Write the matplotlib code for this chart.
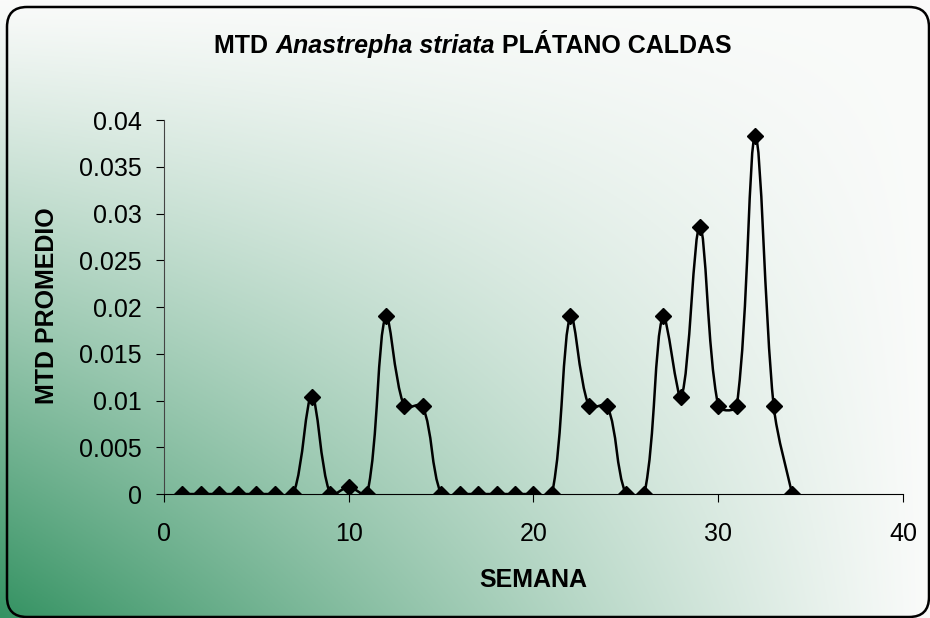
import numpy as np
import matplotlib
matplotlib.use("Agg")
from matplotlib import pyplot as plt
from matplotlib.path import Path
from matplotlib.patches import PathPatch, FancyBboxPatch

plt.rcParams['font.family'] = ['Liberation Sans', 'DejaVu Sans']

# data
semanas = list(range(1, 35))
mtd = [0, 0, 0, 0, 0, 0, 0, 0.0104, 0, 0.00075,
       0, 0.019, 0.0094, 0.0094, 0, 0, 0, 0, 0, 0,
       0, 0.019, 0.0094, 0.0094, 0, 0, 0.019, 0.0104, 0.0286, 0.0094,
       0.0094, 0.0383, 0.0094, 0]
x_ticks = [0, 10, 20, 30, 40]
y_ticks = [0, 0.005, 0.01, 0.015, 0.02, 0.025, 0.03, 0.035, 0.04]
y_labels = ['0', '0.005', '0.01', '0.015', '0.02', '0.025', '0.03', '0.035', '0.04']
title_parts = [('MTD ', 'normal'), ('Anastrepha striata', 'italic'), (' PLÁTANO CALDAS', 'normal')]


def smooth_path(ax, xs, ys, tension=1 / 3):
    '''
    Excel-like smoothed line: cubic bezier segments whose tangents are
    weighted by the on-screen chord lengths of the neighbouring segments.
    '''
    pts = np.column_stack([xs, ys]).astype(float)
    scr = ax.transData.transform(pts)
    n = len(pts)
    d = np.hypot(*np.diff(scr, axis=0).T)
    verts = [tuple(pts[0])]
    codes = [Path.MOVETO]
    for i in range(n - 1):
        p0 = i - 1 if i > 0 else i
        p3 = i + 2 if i + 2 < n else i + 1
        d_prev = d[i - 1] if i > 0 else d[i]
        d_next = d[i + 1] if i + 1 < n - 1 else d[i]
        w1 = d[i] / (d_prev + d[i]) * tension
        w2 = d[i] / (d[i] + d_next) * tension
        c1 = pts[i] + (pts[i + 1] - pts[p0]) * w1
        c2 = pts[i + 1] - (pts[p3] - pts[i]) * w2
        verts += [tuple(c1), tuple(c2), tuple(pts[i + 1])]
        codes += [Path.CURVE4] * 3
    return Path(verts, codes)


fig = plt.figure(figsize=(9.3, 6.18), dpi=100)

# background gradient (green bottom-left to white top-right)
bg = fig.add_axes([0, 0, 1, 1], zorder=0)
gx, gy = np.meshgrid(np.linspace(0, 1, 465), np.linspace(0, 1, 309))
s = np.clip((1 - gx) * (1 - gy), 0, 1) ** 1.1
white = np.array([250, 251, 250]) / 255
green = np.array([52, 146, 98]) / 255
img = white[None, None, :] * (1 - s[..., None]) + green[None, None, :] * s[..., None]
bg.imshow(img, extent=[0, 1, 0, 1], aspect='auto', origin='lower')
bg.set_xlim(0, 1)
bg.set_ylim(0, 1)
bg.axis('off')

# rounded chart border
fig.patches.append(FancyBboxPatch((0.07, 0.01), 9.22, 6.10,
                                  boxstyle="round,pad=0,rounding_size=0.2",
                                  transform=fig.dpi_scale_trans, fill=False,
                                  edgecolor='black', linewidth=1.8, zorder=3))

ax = fig.add_axes([0.1763, 0.2006, 0.7947, 0.6052], zorder=1)
ax.patch.set_alpha(0)
ax.set_xlim(0, 40)
ax.set_ylim(0, 0.04)

ax.add_patch(PathPatch(smooth_path(ax, semanas, mtd), fill=False,
                       edgecolor='black', linewidth=1.8))
ax.plot(semanas, mtd, linestyle='none', marker='D', markersize=8, color='black')

ax.set_xticks(x_ticks)
ax.set_yticks(y_ticks)
ax.set_yticklabels(y_labels)
ax.tick_params(axis='both', labelsize=18, direction='out', length=6, color='black')
ax.tick_params(axis='x', pad=14)
ax.tick_params(axis='y', pad=10)
for side in ['top', 'right']:
    ax.spines[side].set_visible(False)
ax.spines['left'].set_color('#444444')
ax.spines['bottom'].set_color('black')

fig.text(0.573, 0.050, 'SEMANA', ha='center', va='baseline',
         fontsize=18, fontweight='bold')
fig.text(0.0505, 0.5057, 'MTD PROMEDIO', ha='center', va='center',
         rotation=90, fontsize=18, fontweight='bold')

# title made of pieces so that the species name is bold italic
renderer = fig.canvas.get_renderer()
pieces = [fig.text(0, 0.914, txt, fontsize=18, fontweight='bold', style=st,
                   va='baseline', ha='left') for txt, st in title_parts]
widths = [p.get_window_extent(renderer).width for p in pieces]
x_px = 473 - sum(widths) / 2
for p, w in zip(pieces, widths):
    p.set_x(x_px / 930)
    x_px += w

fig.savefig('out.png', dpi=100)
